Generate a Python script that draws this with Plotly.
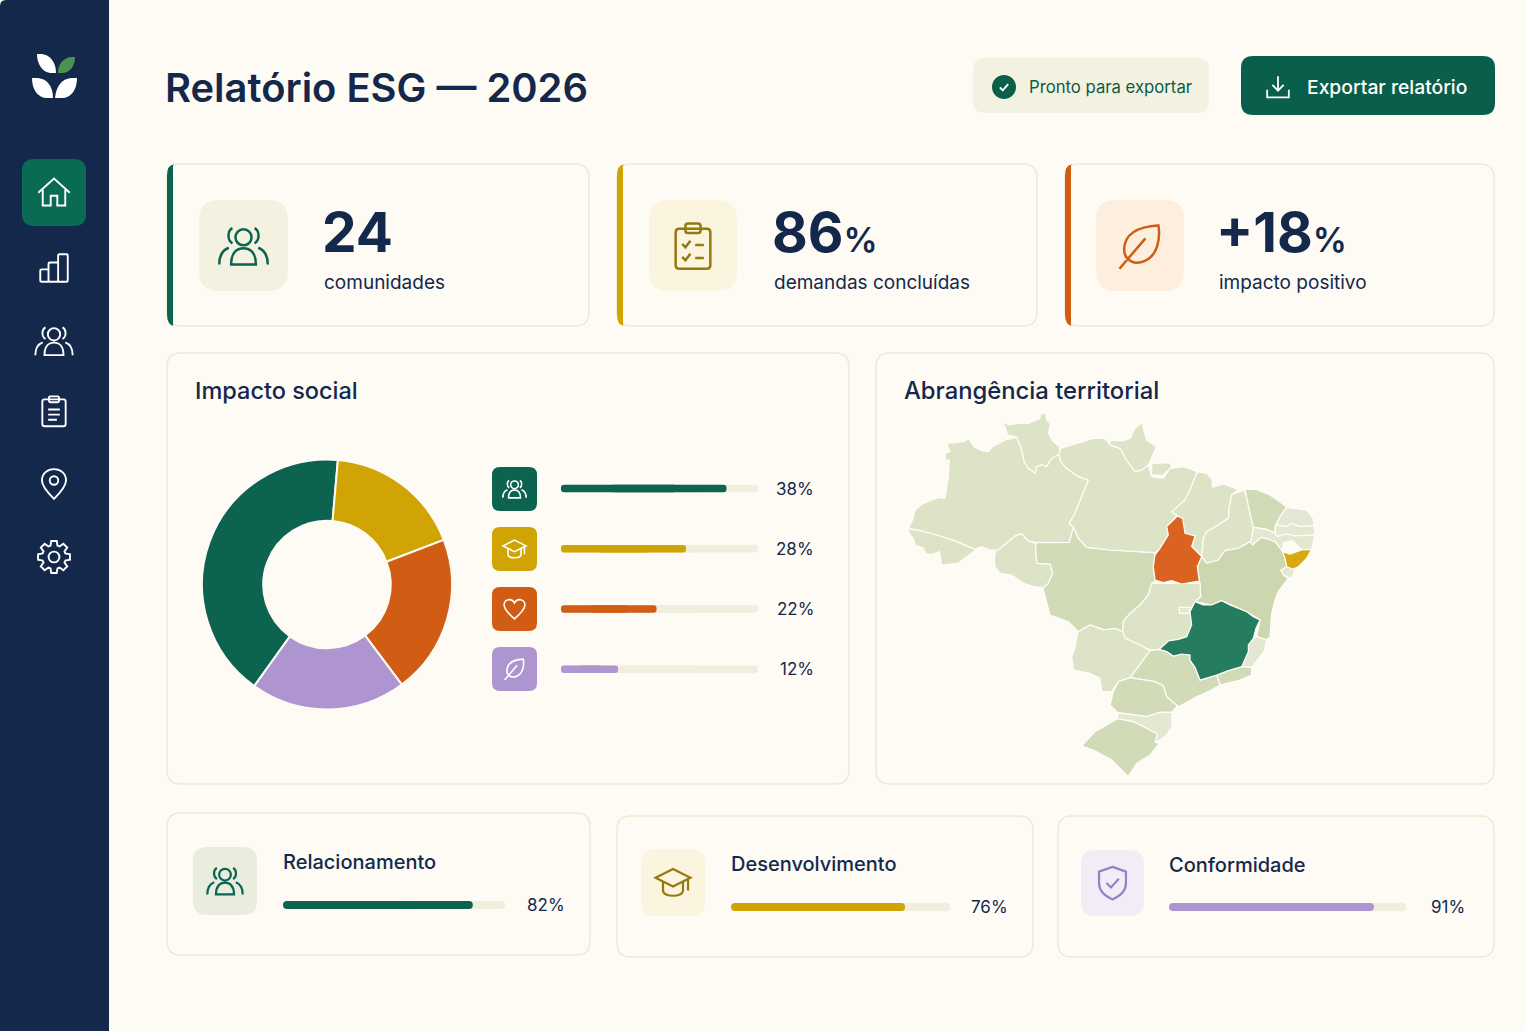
import math, re
import plotly.graph_objects as go

W, H = 1525, 1031
NAVY = "#14284B"; GREEN = "#0B6350"; GOLD = "#CFA404"; ORANGE = "#D15C14"; PURPLE = "#AE95D0"
PAGE = "#FEFBF5"; BORDER = "#EFE9D3"; TRACK = "#F0EEDD"; FONT = "Inter"

TITLE = "Relatório ESG — 2026"
STATUS = "Pronto para exportar"
EXPORT = "Exportar relatório"
KPI_VALUES = ["24", "86", "+18"]
KPI_SUFFIX = ["", "%", "%"]
KPI_LABELS = ["comunidades", "demandas concluídas", "impacto positivo"]

DONUT_LABELS = ["Comunidades", "Educação", "Saúde", "Meio ambiente"]
DONUT_VALUES = [41.5, 17.8, 20.6, 20.1]
IMPACT_PCT = [38, 28, 22, 12]
IMPACT_FILL = [84, 63.5, 48.5, 29]
SCORE_NAMES = ["Relacionamento", "Desenvolvimento", "Conformidade"]
SCORE_PCT = [82, 76, 91]
SCORE_FILL = [85.5, 79.5, 86.5]


def shift(pts, du, dv):
    return [(u + du, v + dv) for u, v in pts]

# State outlines in map units
RORAIMA = [(302,35),(330,45),(352,40),(385,40),(420,25),(422,10),(438,12),(440,30),(452,42),(445,70),(460,95),(480,112),(477,133),(455,145),(440,170),(425,165),(410,170),(405,190),(385,175),(372,155),(365,120),(350,82),(322,75),(315,50)]
AMAZONAS = [(140,100),(190,95),(207,87),(222,110),(245,122),(265,125),(275,112),(315,90),(350,82),(365,120),(372,155),(385,175),(405,190),(410,170),(425,165),(440,170),(455,145),(477,133),(482,155),(500,175),(535,200),(565,210),(545,260),(525,310),(508,340),(520,352),(508,397),(410,398),(385,393),(365,372),(345,378),(320,400),(295,420),(270,420),(245,410),(225,418),(170,395),(110,375),(60,362),(25,355),(40,325),(45,300),(70,280),(115,262),(135,265),(145,200),(148,150),(135,150),(135,130),(150,125)]
ACRE = [(22,355),(60,362),(110,375),(170,395),(228,420),(200,440),(175,460),(125,465),(118,425),(100,432),(78,432),(70,415),(45,405),(40,385),(30,375)]
RONDONIA = [(287,422),(295,420),(320,400),(345,378),(365,372),(385,393),(407,400),(408,440),(412,460),(450,462),(458,490),(445,520),(430,533),(400,530),(370,520),(335,495),(300,490),(285,470),(283,445)]
MATO_GROSSO = [(410,398),(508,397),(520,352),(535,385),(560,412),(630,420),(765,428),(760,480),(770,512),(755,520),(745,555),(720,585),(690,610),(670,635),(668,665),(645,655),(615,660),(570,645),(535,665),(505,635),(450,615),(440,580),(430,540),(430,533),(445,520),(458,490),(450,462),(412,460),(408,440),(407,400)]
PARA = [(482,115),(530,100),(580,85),(610,85),(622,92),(630,105),(660,115),(680,150),(705,185),(725,180),(745,165),(755,200),(790,205),(810,175),(850,170),(892,185),(870,240),(855,270),(815,305),(830,318),(800,350),(805,375),(780,415),(765,428),(630,420),(560,412),(535,385),(520,352),(508,340),(525,310),(545,260),(565,210),(535,200),(500,175),(482,155),(477,133)]
AMAPA = [(630,92),(670,92),(690,85),(705,55),(725,38),(740,90),(770,110),(755,145),(745,165),(725,180),(705,185),(680,150),(660,115),(630,105)]
MARAJO = [(755,160),(810,158),(815,170),(790,195),(755,195)]
MARANHAO = shift([(262,185),(290,190),(305,205),(308,232),(340,222),(385,238),(365,255),(358,290),(355,325),(325,345),(290,365),(280,385),(275,438),(245,410),(255,378),(225,372),(205,320),(185,305),(225,270),(240,240)], 630, 0)
TOCANTINS = shift([(202,318),(218,325),(225,370),(255,378),(245,410),(275,440),(262,470),(268,513),(240,518),(215,522),(185,512),(160,518),(135,510),(130,470),(135,435),(150,415),(175,375),(170,350)], 630, 0)
PIAUI = shift([(403,240),(412,270),(420,310),(430,350),(425,385),(420,395),(385,415),(345,422),(325,450),(290,460),(275,440),(280,385),(290,365),(325,345),(355,325),(358,290),(365,255)], 630, 0)
CEARA = shift([(405,238),(440,238),(480,255),(510,275),(530,292),(510,320),(495,350),(495,370),(470,358),(430,352),(420,310),(412,270)], 630, 0)
RN = shift([(530,292),(590,300),(610,325),(612,347),(570,350),(545,340),(530,350),(498,345),(510,320)], 630, 0)
PARAIBA = shift([(498,345),(530,350),(545,340),(570,350),(612,347),(615,375),(555,378),(530,372),(502,380),(495,370)], 630, 0)
PERNAMBUCO = shift([(430,352),(470,358),(495,370),(502,380),(530,372),(555,378),(615,375),(605,418),(575,420),(548,392),(520,398),(518,425),(495,395),(455,382),(428,405),(420,395),(425,385)], 630, 0)
ALAGOAS = shift([(518,425),(540,432),(575,420),(605,418),(590,445),(565,470),(548,478),(530,470),(525,445)], 630, 0)
SERGIPE = shift([(530,470),(548,478),(555,480),(545,505),(520,495),(512,480)], 630, 0)
BAHIA = [(1050,395),(1058,405),(1085,382),(1125,395),(1148,425),(1155,445),(1160,470),(1142,480),(1150,495),(1165,505),(1135,545),(1125,570),(1115,610),(1110,680),(1100,690),(1070,680),(1080,630),(1040,605),(965,572),(935,585),(885,575),(902,560),(900,525),(898,513),(892,470),(905,440),(920,460),(955,450),(975,422),(1015,415)]
MINAS = shift([(465,65),(490,75),(515,75),(545,62),(570,75),(620,95),(640,110),(660,120),(648,145),(640,175),(625,195),(625,215),(605,260),(565,272),(530,285),(500,295),(480,300),(465,262),(450,240),(450,225),(425,222),(400,228),(380,215),(358,208),(385,183),(415,178),(440,170),(455,135),(450,95)], 420, 510)
GOIAS = shift([(335,10),(480,10),(482,50),(465,65),(450,95),(455,135),(440,170),(415,178),(385,183),(358,208),(330,210),(300,195),(255,175),(248,155),(250,125),(270,100),(300,75),(325,45)], 420, 510)
DF = shift([(418,82),(450,82),(447,100),(418,100)], 420, 510)
ESPIRITO = shift([(650,170),(680,180),(672,215),(650,245),(635,262),(605,260),(625,215),(625,195),(640,175)], 420, 510)
RIO = shift([(605,260),(635,262),(635,285),(600,300),(540,315),(530,285),(565,272)], 420, 510)
SAO_PAULO = shift([(330,212),(358,208),(380,215),(400,228),(425,222),(450,225),(450,240),(465,262),(480,300),(500,295),(530,285),(540,315),(505,335),(470,350),(420,378),(412,378),(380,350),(370,318),(345,305),(270,293)], 420, 510)
MS = shift([(115,155),(150,135),(190,150),(225,145),(248,155),(255,175),(300,195),(330,212),(270,293),(235,305),(215,335),(185,335),(180,295),(150,280),(100,270),(95,230),(105,205),(110,170)], 420, 510)
PARANA = shift([(270,293),(345,305),(370,318),(380,350),(412,378),(395,397),(360,397),(320,410),(233,398),(210,375),(220,335),(235,305)], 420, 510)
SC = shift([(233,398),(320,410),(360,397),(395,397),(397,440),(375,470),(345,487),(352,463),(320,445),(280,425),(232,416)], 420, 510)
RS = shift([(232,416),(280,425),(320,445),(352,463),(345,487),(358,490),(330,525),(290,550),(265,590),(245,570),(215,540),(160,510),(125,498),(165,455)], 420, 510)

LIGHT, MID, PALE = "#DDE3C6", "#D2DBB8", "#E4E8D2"
STATES = [
    ("Roraima", RORAIMA, LIGHT), ("Amazonas", AMAZONAS, LIGHT), ("Acre", ACRE, LIGHT), ("Rondônia", RONDONIA, LIGHT),
    ("Mato Grosso", MATO_GROSSO, MID), ("Pará", PARA, LIGHT), ("Amapá", AMAPA, LIGHT), ("Marajó", MARAJO, LIGHT),
    ("Maranhão", MARANHAO, LIGHT), ("Piauí", PIAUI, LIGHT), ("Ceará", CEARA, MID), ("Rio Grande do Norte", RN, PALE),
    ("Paraíba", PARAIBA, PALE), ("Pernambuco", PERNAMBUCO, PALE), ("Sergipe", SERGIPE, PALE), ("Bahia", BAHIA, "#CCD7B0"),
    ("Goiás", GOIAS, LIGHT), ("Distrito Federal", DF, PALE), ("Espírito Santo", ESPIRITO, PALE), ("Rio de Janeiro", RIO, MID),
    ("São Paulo", SAO_PAULO, MID), ("Mato Grosso do Sul", MS, LIGHT), ("Paraná", PARANA, MID), ("Santa Catarina", SC, PALE),
    ("Rio Grande do Sul", RS, MID), ("Tocantins", TOCANTINS, "#DB6321"), ("Alagoas", ALAGOAS, "#D9AA10"), ("Minas Gerais", MINAS, "#257C5E"),
]

# ---- geometry helpers ----

def rr(x0, y0, x1, y1, r):
    return (f"M{x0+r},{y0} L{x1-r},{y0} Q{x1},{y0} {x1},{y0+r} L{x1},{y1-r} Q{x1},{y1} {x1-r},{y1} "
            f"L{x0+r},{y1} Q{x0},{y1} {x0},{y1-r} L{x0},{y0+r} Q{x0},{y0} {x0+r},{y0} Z")

def circ(cx, cy, r):
    k = 0.5523 * r
    return (f"M{cx-r},{cy} C{cx-r},{cy-k} {cx-k},{cy-r} {cx},{cy-r} C{cx+k},{cy-r} {cx+r},{cy-k} {cx+r},{cy} "
            f"C{cx+r},{cy+k} {cx+k},{cy+r} {cx},{cy+r} C{cx-k},{cy+r} {cx-r},{cy+k} {cx-r},{cy} Z")

def gear():
    pts = []
    for i in range(8):
        a = i * math.pi / 4 - math.pi / 2
        for da, rad in [(-0.30, 7.9), (-0.17, 10.8), (0.17, 10.8), (0.30, 7.9)]:
            pts.append((12 + rad * math.cos(a + da), 12 + rad * math.sin(a + da)))
    return "M" + " L".join(f"{x:.2f},{y:.2f}" for x, y in pts) + " Z " + circ(12, 12, 3.6)

ICONS = {
    "people": circ(12, 8, 3.7) + " M6.9,3.8 C4.6,4.9 4.3,9.2 6.9,10.8 M17.1,3.8 C19.4,4.9 19.7,9.2 17.1,10.8 "
              "M6.3,20.5 C6.3,15 9,13 12,13 C15,13 17.7,15 17.7,20.5 Z M0.8,20.5 C0.8,16.4 2.6,13.8 5.2,12.8 M23.2,20.5 C23.2,16.4 21.4,13.8 18.8,12.8",
    "home": "M1.5,12.5 L12,3 L22.5,12.5 M4.5,10.5 L4.5,21 L9.8,21 L9.8,14.5 L14.2,14.5 L14.2,21 L19.5,21 L19.5,10.5",
    "bars": rr(2, 13, 8, 22, 1) + " " + rr(8, 8, 15, 22, 1) + " " + rr(15, 2, 22, 22, 1),
    "clip": rr(4, 4, 20, 22.5, 1.6) + " " + rr(8.5, 2, 15.5, 6, 1) + " M8,11 L16,11 M8,14.5 L16,14.5 M8,18 L14,18",
    "pin": "M12,22.5 C7,17.5 3.5,13.5 3.5,9.5 C3.5,4.5 7.5,1.5 12,1.5 C16.5,1.5 20.5,4.5 20.5,9.5 C20.5,13.5 17,17.5 12,22.5 Z " + circ(12, 9.5, 3),
    "gear": gear(),
    "check": "M7,12.4 L10.5,16 L17,8.6",
    "download": "M12,2 L12,15 M6.8,10 L12,15.4 L17.2,10 M2,14.5 L2,21.5 L22,21.5 L22,14.5",
    "leaf": "M20.5,2.5 C11,3 4.5,6.5 4.7,14 C4.8,18.5 9.5,21 14,19 C20,16.5 21.5,9 20.5,2.5 Z M2.5,22.5 L14.5,8.5",
    "cap": "M1,9 L12,3.5 L23,9 L12,14.5 Z M5.7,11.7 L5.7,17 C5.7,21.5 18.3,21.5 18.3,17 L18.3,11.7 M21.5,9.7 L21.5,17",
    "heart": "M12,21.5 C5,15.5 2,12 2,8 C2,4.7 4.7,3 7.3,3 C9.3,3 11,4.2 12,6.2 C13,4.2 14.7,3 16.7,3 C19.3,3 22,4.7 22,8 C22,12 19,15.5 12,21.5 Z",
    "shield": "M12,1.8 L20.5,4.8 L20.5,12 C20.5,17 16.5,20.4 12,22.4 C7.5,20.4 3.5,17 3.5,12 L3.5,4.8 Z M8.2,12 L11,14.8 L16,9.3",
    "tasks": rr(4, 4, 20, 22.5, 1.6) + " " + rr(8.5, 1.6, 15.5, 6, 1.2) + " M7,11 L8.5,12.6 L10.8,9.6 M13,11.5 L17,11.5 M7,17 L8.5,18.6 L10.8,15.6 M13,17.5 L17,17.5",
}

def place(name, cx, cy, size):
    s = size / 24
    out, idx = [], 0
    for tok in re.findall(r"[MLCQZ]|-?\d+\.?\d*", ICONS[name]):
        if tok.isalpha():
            out.append(tok)
        else:
            v = float(tok)
            out.append(f"{cx + (v - 12) * s:.2f}" if idx % 2 == 0 else f"{cy + (v - 12) * s:.2f}")
            idx += 1
    return " ".join(out)

shapes, notes = [], []

def fill(path, color, line=None, lw=0):
    shapes.append(dict(type="path", path=path, xref="x", yref="y", layer="below", fillcolor=color,
                       line=dict(color=line or color, width=lw)))

def stroke(name, cx, cy, size, color, lw=2):
    shapes.append(dict(type="path", path=place(name, cx, cy, size), xref="x", yref="y", layer="below",
                       fillcolor="rgba(0,0,0,0)", line=dict(color=color, width=lw)))

def text(x, y, s, size, color=NAVY, anchor="left", weight=400):
    notes.append(dict(x=x, y=y, xref="x", yref="y", text=s, showarrow=False, xanchor=anchor, yanchor="middle",
                      borderpad=0, font=dict(family=FONT, size=size, color=color, weight=weight)))

# sidebar
fill(f"M0,6 Q0,0 6,0 L109,0 L109,{H} L0,{H} Z", "#14284B")
fill("M37,54 L42,54 C50,55 56,62 56,73 L50,73 C43,72 37,65 37,54 Z", "#FFFFFF")
fill("M75,57 L71,57 C63,58 58,64 58,73 L62,73 C70,73 75,66 75,57 Z", "#4C9150")
fill("M32,78 L38,78 C47,79 53,86 53,98 L47,98 C38,98 32,90 32,78 Z", "#FFFFFF")
fill("M77,78 L71,78 C62,79 56,86 55,98 L62,98 C71,98 77,90 77,78 Z", "#FFFFFF")
fill(rr(22, 159, 86, 226, 12), "#0A6B55")
for icon, cy, sz in [("home", 192, 36), ("bars", 268, 33), ("people", 341, 40), ("clip", 411, 35), ("pin", 484, 34), ("gear", 557, 36)]:
    stroke(icon, 54, cy, sz, "#FFFFFF", 1.9)

# header
text(164, 87, TITLE, 39.9, NAVY, weight=600)
fill(rr(973, 58, 1209, 113, 12), "#F3F2E1")
fill(circ(1004, 87, 12), "#0A5F49")
stroke("check", 1004, 87, 20, "#FFFFFF", 2)
text(1028, 87, STATUS, 16.7, "#0E5A46", weight=400)
fill(rr(1241, 56, 1495, 115, 12), "#0A5F4C")
stroke("download", 1278, 87, 26, "#FFFFFF", 1.8)
text(1306, 87, EXPORT, 19.3, "#FFFFFF", weight=500)

# KPI cards
KPI_BOX = [(167, 589), (617, 1037), (1065, 1494)]
KPI_TILE = [(199, 288, "#F3F2E1", "people", "#0B6350"), (649, 737, "#FBF4DE", "tasks", "#94790F"), (1096, 1184, "#FDEEDD", "leaf", "#D15C14")]
KPI_TEXT_X = [321, 771, 1215]
KPI_LABEL_X = [323, 773, 1218]
for i, ((x0, x1), (tx0, tx1, tc, ic, icc), c) in enumerate(zip(KPI_BOX, KPI_TILE, [GREEN, GOLD, ORANGE])):
    fill(rr(x0, 164, x1, 326, 14), PAGE, BORDER, 1.5)
    fill(f"M{x0+7},164 Q{x0},165 {x0},176 L{x0},314 Q{x0},325 {x0+7},326 L{x0+6},326 L{x0+6},164 Z", c)
    fill(rr(tx0, 200, tx1, 291, 20), tc)
    stroke(ic, (tx0 + tx1) / 2, 246, 52, icc, 2.5)
    suffix = f"<span style='font-size:34px;font-weight:600'>{KPI_SUFFIX[i]}</span>" if KPI_SUFFIX[i] else ""
    text(KPI_TEXT_X[i], 232, KPI_VALUES[i] + suffix, 55, NAVY, weight=700)
    text(KPI_LABEL_X[i], 282, KPI_LABELS[i], 19, NAVY)

# panels
fill(rr(167, 353, 849, 784, 14), PAGE, BORDER, 1.5)
fill(rr(876, 353, 1494, 784, 14), PAGE, BORDER, 1.5)
text(194, 390, "Impacto social", 23.5, NAVY, weight=500)
text(903, 390, "Abrangência territorial", 23.8, NAVY, weight=500)

ROW_COLORS = [GREEN, GOLD, ORANGE, PURPLE]
ROW_ICONS = ["people", "cap", "heart", "leaf"]
ROW_Y = [489, 549, 609, 669]
for c, ic, y, pct in zip(ROW_COLORS, ROW_ICONS, ROW_Y, IMPACT_PCT):
    fill(rr(492, y - 22, 537, y + 22, 8), c)
    stroke(ic, 514.5, y, 25, "#FFFFFF", 1.6)
    text(815, y - 0.5, f"{pct}%", 17, NAVY, "right")

# bottom cards
SCORE_BOX = [(167, 813, 590, 955), (617, 816, 1033, 957), (1058, 816, 1494, 957)]
SCORE_TILE = [(193, 847, 257, 915, "#E9EDDE", "people", GREEN), (641, 849, 705, 916, "#FBF4DE", "cap", "#94790F"), (1081, 850, 1144, 916, "#F1ECF5", "shield", "#9A7FC4")]
SCORE_TEXT = [(282, 862, 566, 905), (730, 864, 1009, 907), (1168, 865, 1466, 907)]
for (x0, y0, x1, y1), (a, b, c, d, tc, ic, icc), (tx, ty, px, py), name, pct in zip(SCORE_BOX, SCORE_TILE, SCORE_TEXT, SCORE_NAMES, SCORE_PCT):
    fill(rr(x0, y0, x1, y1, 14), PAGE, BORDER, 1.5)
    fill(rr(a, b, c, d, 14), tc)
    stroke(ic, (a + c) / 2, (b + d) / 2, 38, icc, 2.2)
    text(tx, ty - 0.5, name, 20, NAVY, weight=500)
    text(px, py, f"{pct}%", 17, NAVY, "right")

fig = go.Figure()

# invisible trace anchoring the page axes
fig.add_trace(go.Scatter(x=[0], y=[0], mode="markers", marker=dict(opacity=0), xaxis="x", yaxis="y", hoverinfo="skip", showlegend=False))

# donut
fig.add_trace(go.Pie(labels=DONUT_LABELS, values=DONUT_VALUES, sort=False, direction="clockwise", rotation=215.6,
                     hole=0.51, textinfo="none", showlegend=False,
                     marker=dict(colors=[GREEN, GOLD, ORANGE, PURPLE], line=dict(color=PAGE, width=2)),
                     domain=dict(x=[202 / W, 452 / W], y=[1 - 710 / H, 1 - 459 / H])))

axes = {}
def hidden(**kw):
    return dict(visible=False, fixedrange=True, **kw)

axes["xaxis"] = hidden(domain=[0, 1], range=[0, W])
axes["yaxis"] = hidden(domain=[0, 1], range=[H, 0])

# map
for name, pts, color in STATES:
    fig.add_trace(go.Scatter(x=[p[0] for p in pts] + [pts[0][0]], y=[p[1] for p in pts] + [pts[0][1]],
                             mode="lines", fill="toself", fillcolor=color, name=name, showlegend=False,
                             line=dict(color="#FFFDF8", width=1.2), xaxis="x2", yaxis="y2", hoverinfo="name"))
axes["xaxis2"] = hidden(domain=[900 / W, 1320 / W], range=[0, 1260], anchor="y2")
axes["yaxis2"] = hidden(domain=[1 - 780 / H, 1 - 410 / H], range=[1110, 0], anchor="x2")

# progress bars: two overlapping runs per bar, one rounded at each end
def rounded_bars(cats, values, colors, width, xa, ya):
    for start, end in ((0.3, 1.0), (0.7, 0.0)):
        bases = [v * start for v in values]
        fig.add_trace(go.Bar(y=cats, x=[v * (end - start) for v in values], base=bases, orientation="h",
                             marker=dict(color=colors, line_width=0), width=width,
                             xaxis=xa, yaxis=ya, showlegend=False, hoverinfo="skip"))

def progress(n, cats, values, colors, x0, x1, y0, y1, width):
    xa, ya = f"x{n}", f"y{n}"
    rounded_bars(cats, [100] * len(cats), TRACK, width, xa, ya)
    rounded_bars(cats, values, colors, width, xa, ya)
    axes[f"xaxis{n}"] = hidden(domain=[x0 / W, x1 / W], range=[0, 100], anchor=ya)
    axes[f"yaxis{n}"] = hidden(domain=[1 - y1 / H, 1 - y0 / H], range=[len(cats) - 0.5, -0.5], anchor=xa, type="category")

progress(3, DONUT_LABELS, IMPACT_FILL, ROW_COLORS, 561, 758, 458.5, 699.5, 7.5 / 60.25)
progress(4, SCORE_NAMES[:1], SCORE_FILL[:1], [GREEN], 283, 505, 895, 915, 8 / 20)
progress(5, SCORE_NAMES[1:2], SCORE_FILL[1:2], [GOLD], 731, 950, 897, 917, 8 / 20)
progress(6, SCORE_NAMES[2:], SCORE_FILL[2:], [PURPLE], 1169, 1406, 897, 917, 8 / 20)

fig.update_layout(width=W, height=H, margin=dict(l=0, r=0, t=0, b=0), autosize=False,
                  paper_bgcolor=PAGE, plot_bgcolor="rgba(0,0,0,0)", barmode="overlay", barcornerradius=4,
                  shapes=shapes, annotations=notes, showlegend=False, font=dict(family=FONT, color=NAVY), **axes)

fig.write_html("out.html", config=dict(displayModeBar=False),
               post_script="document.body.style.margin='0';document.body.style.background='#FEFBF5';")
